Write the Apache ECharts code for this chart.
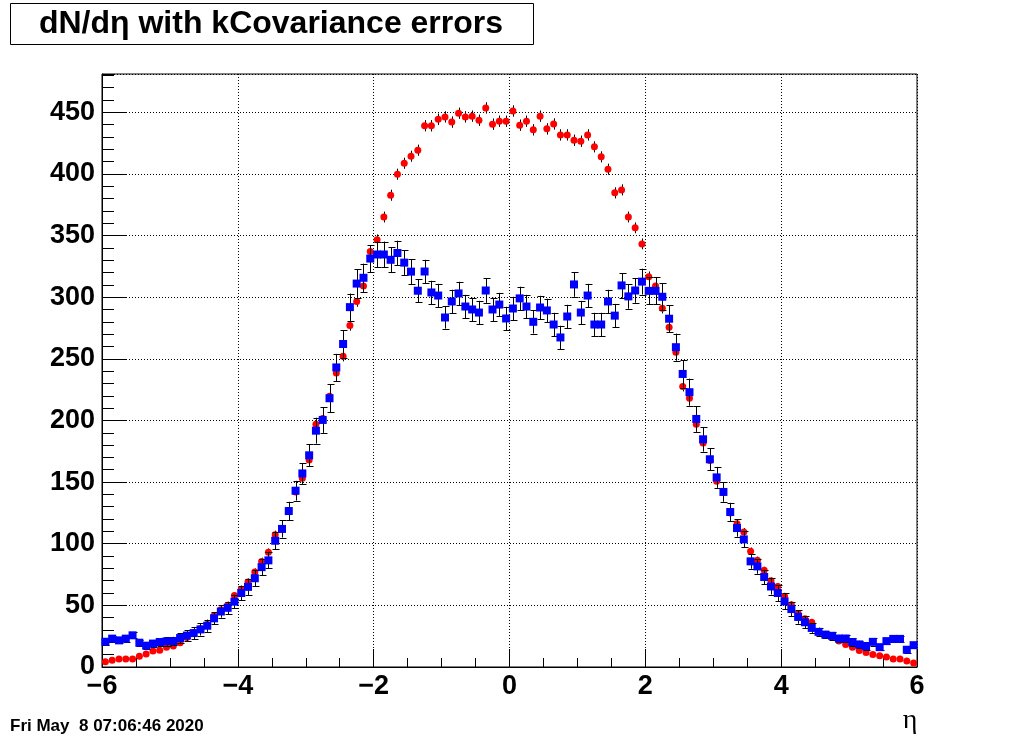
<!DOCTYPE html>
<html><head><meta charset="utf-8">
<script src="https://cdn.jsdelivr.net/npm/echarts@6/dist/echarts.min.js"></script>
<style>html,body{margin:0;padding:0;background:#fff}#c{width:1020px;height:740px}</style>
</head><body><div id="c"></div>
<script>
// ---- data (120 bins of width 0.1 from eta = -6 to 6) ----
const etaMin = -6;
const binWidth = 0.1;
const yMax = 481;
const xTickValues = [-6, -4, -2, 0, 2, 4, 6];
const xTickLabels = ['\u22126', '\u22124', '\u22122', '0', '2', '4', '6'];
const yTickLabels = ['0', '50', '100', '150', '200', '250', '300', '350', '400', '450'];

const redValues = [
  4.3, 5.4, 6.5, 6.5, 6.5, 8.7, 10.5, 13, 13.5, 16,
  17, 19.7, 24, 28, 31, 34.5, 41.5, 46.5, 50, 58,
  63, 69, 77, 85.6, 93, 107.3, 112, 127, 142, 153,
  168, 197, 201.5, 219.6, 238.5, 252, 277, 296.5, 309, 337,
  346.5, 365, 382.7, 399.7, 408.6, 414.3, 419.2, 439, 439, 444.3,
  446.2, 442, 449.2, 446.2, 446.8, 443.5, 453.5, 440.3, 442.7, 442.7,
  451, 439.5, 442.7, 435.7, 446.8, 436.5, 440.5, 431.6, 431.6, 427.3,
  426.5, 431.6, 421.9, 413.8, 403.8, 384.6, 387, 365, 356.2, 343.2,
  316.5, 309, 291, 275.5, 255.3, 227.5, 218, 196.9, 181.7, 167.4,
  150.6, 142, 125, 116.2, 109.5, 93.8, 86.5, 78.5, 70, 65.3,
  57.3, 50.5, 43.3, 39.2, 36.3, 28.5, 25.8, 24.2, 21, 18.3,
  16.1, 13.4, 11.8, 10.2, 9.1, 8.1, 6.5, 6.5, 4.8, 3.2
];
const redErrors = [
  0.8, 0.9, 1, 1, 1, 1.1, 1.2, 1.3, 1.3, 1.4,
  1.5, 1.6, 1.7, 1.8, 1.9, 2, 2.2, 2.3, 2.4, 2.6,
  2.7, 2.8, 3, 3.1, 3.2, 3.3, 3.4, 3.5, 3.6, 3.7,
  3.8, 4, 4, 4, 4.1, 4.1, 4.2, 4.3, 4.3, 4.4,
  4.4, 4.4, 4.5, 4.5, 4.5, 4.5, 4.5, 4.6, 4.6, 4.6,
  4.6, 4.6, 4.6, 4.6, 4.6, 4.6, 4.6, 4.6, 4.6, 4.6,
  4.6, 4.6, 4.6, 4.6, 4.6, 4.6, 4.6, 4.6, 4.6, 4.6,
  4.6, 4.6, 4.5, 4.5, 4.5, 4.5, 4.5, 4.4, 4.4, 4.4,
  4.3, 4.3, 4.2, 4.1, 4.1, 4, 4, 3.9, 3.8, 3.7,
  3.6, 3.5, 3.4, 3.3, 3.2, 3.1, 3, 2.8, 2.7, 2.6,
  2.4, 2.3, 2.2, 2, 1.9, 1.8, 1.7, 1.6, 1.5, 1.4,
  1.3, 1.2, 1.1, 1.1, 1, 1, 0.9, 0.9, 0.8, 0.7
];
const blueValues = [
  20.5, 23, 21.6, 23, 25.7, 19.7, 17.3, 19, 20.3, 20.8,
  21, 23.5, 25.5, 27.5, 30.5, 33.5, 39.5, 45, 48, 53,
  60, 65, 72, 81, 86.5, 102.4, 112, 126.5, 143, 157,
  171.7, 191.7, 200.4, 218, 243, 262, 291.9, 311, 315.7, 331.3,
  334.6, 334.6, 330.3, 335.8, 328, 320.7, 305.2, 320.8, 303.8, 301.3,
  283.5, 296.5, 303, 292.4, 290, 287.5, 305.4, 290, 294, 282.7,
  290.8, 299, 292.4, 280, 291.6, 289.2, 277.8, 267.3, 284.3, 310.3,
  287.5, 301.3, 277.8, 277.8, 296.5, 285, 309.5, 300.6, 305.4, 312.6,
  305.1, 305.1, 300.3, 282.5, 259.4, 237.7, 222.9, 201.2, 184.7, 168.5,
  153.8, 142, 125.7, 112.7, 103.5, 85.7, 81.6, 73, 65.3, 60,
  53.2, 47, 40.6, 36.3, 31.7, 28.5, 26.3, 25.3, 23.1, 23.1,
  20.2, 18.3, 16.9, 20.4, 16.1, 21, 22.8, 22.8, 14, 17.7
];
const blueErrors = [
  2.5, 2.5, 2.5, 2.5, 2.5, 2.5, 2.5, 3, 3, 3.5,
  3.5, 4, 4.5, 5, 5, 5, 5, 5, 5, 5.5,
  6, 6.5, 6.5, 6.5, 6.5, 7, 7, 7.5, 8, 8.5,
  9, 10.5, 10.5, 11.5, 11, 11, 11, 11.5, 11.5, 11,
  10.5, 10.5, 10, 10, 10, 10, 9.5, 9.5, 9.5, 9.5,
  9, 9.5, 9.5, 9.5, 9.5, 9.5, 10, 9.5, 9.5, 9.5,
  9.5, 9.5, 9.5, 9.5, 9.5, 9.5, 9.5, 9.5, 9.5, 10,
  9.5, 9.5, 9.5, 9.5, 9.5, 9.5, 10, 10, 10, 10.5,
  11, 11, 11, 11, 11, 11, 11, 10.5, 10, 9,
  8.5, 8, 7.5, 7, 6.5, 6, 6, 6, 6.5, 6.5,
  6.5, 6, 5.5, 5, 4, 3.5, 3, 3, 3, 3,
  3, 3, 3, 3, 2.5, 2.5, 2.5, 2.5, 2.5, 2.5
];

// ---- chart ----
const FONT = "'Liberation Sans', Arial, Helvetica, sans-serif";
const centers = redValues.map((_, i) => +(etaMin + binWidth * (i + 0.5)).toFixed(3));
const chart = echarts.init(document.getElementById('c'), null, { renderer: 'canvas' });

function errorSeries(vals, errs, capHalf, z) {
  return {
    type: 'custom',
    z: z,
    clip: true,
    silent: true,
    data: vals.map((v, i) => [centers[i], v, errs[i]]),
    renderItem: function (params, api) {
      const x = api.value(0), y = api.value(1), e = api.value(2);
      const t = api.coord([x, y + e]);
      const b = api.coord([x, y - e]);
      const px = Math.round(t[0]) + 0.5;
      const st = { stroke: '#000', lineWidth: 1 };
      const ch = [{ type: 'line', shape: { x1: px, y1: t[1], x2: px, y2: b[1] }, style: st }];
      if (capHalf > 0) {
        const ty = Math.round(t[1]) + 0.5, by = Math.round(b[1]) + 0.5;
        ch.push({ type: 'line', shape: { x1: px - capHalf, y1: ty, x2: px + capHalf + 1, y2: ty }, style: st });
        ch.push({ type: 'line', shape: { x1: px - capHalf, y1: by, x2: px + capHalf + 1, y2: by }, style: st });
      }
      return { type: 'group', children: ch };
    }
  };
}

const option = {
  animation: false,
  backgroundColor: '#fff',
  grid: { left: 102, top: 74, width: 815, height: 593, show: true, borderColor: '#000', borderWidth: 1, backgroundColor: 'transparent' },
  xAxis: {
    type: 'value', min: -6, max: 6, interval: 2,
    axisLine: { show: true, onZero: false, lineStyle: { color: '#000', width: 1 } },
    axisTick: { show: true, inside: true, length: 18, lineStyle: { color: '#000' } },
    minorTick: { show: true, splitNumber: 4, length: 9, lineStyle: { color: '#000' } },
    splitLine: { show: true, lineStyle: { color: '#000', width: 1, type: [1, 2] } },
    axisLabel: {
      color: '#000', fontFamily: FONT, fontWeight: 'bold', fontSize: 27, margin: 6,
      formatter: v => { const k = xTickValues.indexOf(v); return k >= 0 ? xTickLabels[k] : ''; }
    }
  },
  yAxis: [{
    type: 'value', min: 0, max: yMax, interval: 50,
    axisLine: { show: true, onZero: false, lineStyle: { color: '#000', width: 1 } },
    axisTick: { show: true, inside: true, length: 24, lineStyle: { color: '#000' } },
    splitLine: { show: true, lineStyle: { color: '#000', width: 1, type: [1, 2] } },
    axisLabel: {
      color: '#000', fontFamily: FONT, fontWeight: 'bold', fontSize: 27, margin: 7, showMaxLabel: false,
      formatter: v => { const k = Math.round(v / 50); return (Math.abs(v - k * 50) < 1e-6 && k < yTickLabels.length) ? yTickLabels[k] : ''; }
    }
  }, {
    type: 'value', min: 0, max: yMax, interval: 10, position: 'left',
    axisLine: { show: false, onZero: false },
    axisTick: { show: true, inside: true, length: 12, lineStyle: { color: '#000' } },
    splitLine: { show: false },
    axisLabel: { show: false }
  }],
  series: [
    errorSeries(redValues, redErrors, 0, 2),
    {
      type: 'scatter', z: 3, symbol: 'circle', symbolSize: 7, silent: true,
      itemStyle: { color: '#ff0000', opacity: 1 },
      data: redValues.map((v, i) => [centers[i], v])
    },
    errorSeries(blueValues, blueErrors, 3, 4),
    {
      type: 'scatter', z: 5, symbol: 'rect', symbolSize: 8, silent: true,
      itemStyle: { color: '#0000ff', opacity: 1 },
      data: blueValues.map((v, i) => [centers[i], v])
    }
  ],
  graphic: [
    { type: 'rect', left: 10, top: 3, shape: { width: 523, height: 41 }, style: { fill: '#fff', stroke: '#000', lineWidth: 1 }, z: 10 },
    { type: 'text', x: 271, y: 24, z: 11, style: { text: 'dN/d\u03b7 with kCovariance errors', font: 'bold 32px ' + FONT, fill: '#000', align: 'center', verticalAlign: 'middle' } },
    { type: 'text', x: 910, y: 721, z: 11, style: { text: '\u03b7', font: '28px "Liberation Serif", "DejaVu Serif", serif', fill: '#000', align: 'center', verticalAlign: 'middle' } },
    { type: 'text', x: 10, y: 726, z: 11, style: { text: 'Fri May  8 07:06:46 2020', font: 'bold 17px ' + FONT, fill: '#000', align: 'left', verticalAlign: 'middle' } }
  ]
};
chart.setOption(option);
</script>
</body></html>
